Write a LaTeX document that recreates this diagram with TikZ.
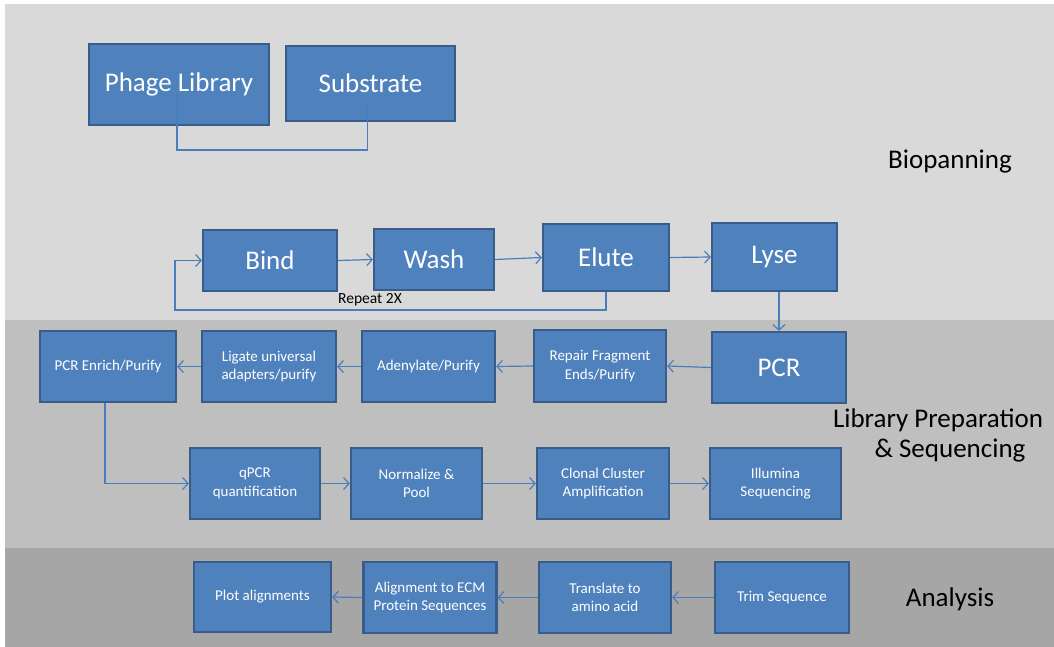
\documentclass[tikz,border=0pt]{standalone}
\usepackage{fontspec}
\setmainfont{Carlito}
\usetikzlibrary{arrows.meta}
\definecolor{bandA}{HTML}{D9D9D9}
\definecolor{bandB}{HTML}{BFBFBF}
\definecolor{bandC}{HTML}{A6A6A6}
\definecolor{boxfill}{HTML}{4F81BD}
\definecolor{boxline}{HTML}{385D8A}
\definecolor{arrowc}{HTML}{4A7EBB}
\begin{document}
\begin{tikzpicture}[x=1pt,y=-1pt,
  box/.style={draw=boxline, fill=boxfill, line width=2.2pt, text=white, align=center, inner sep=0pt},
  big/.style={font=\fontsize{27}{31}\selectfont},
  small/.style={font=\fontsize{15}{18.5}\selectfont},
  lbl/.style={font=\fontsize{27}{31}\selectfont, align=center, text=black},
  conn/.style={draw=arrowc, line width=1.2pt},
  arr/.style={conn, -{Straight Barb[length=5.5pt,width=12pt]}}
  ]
\useasboundingbox (0,0) rectangle (1054,647);
\fill[white] (0,0) rectangle (1054,647);
\fill[bandA] (5,4) rectangle (1054,320);
\fill[bandB] (5,320) rectangle (1054,548);
\fill[bandC] (5,548) rectangle (1054,647);

% Biopanning
\node[box,big,minimum width=180pt,minimum height=81pt] (pl) at (179,84.5) {Phage Library};
\node[box,big,minimum width=169pt,minimum height=75pt] (sb) at (370.5,83.5) {Substrate};
\node[box,big,minimum width=134pt,minimum height=61pt] (bi) at (270,260.5) {Bind};
\node[box,big,minimum width=120pt,minimum height=61pt] (wa) at (434,259.5) {Wash};
\node[box,big,minimum width=126pt,minimum height=67pt] (el) at (606,257.5) {Elute};
\node[box,big,minimum width=125pt,minimum height=68pt] (ly) at (774.5,257) {Lyse};

% Library preparation
\node[box,big,minimum width=134pt,minimum height=71pt] (pcr) at (779,367.5) {PCR};
\node[box,small,minimum width=132pt,minimum height=72pt] (rf) at (600,366) {Repair Fragment\\Ends/Purify};
\node[box,small,minimum width=133pt,minimum height=71pt] (ad) at (428.5,366.5) {Adenylate/Purify};
\node[box,small,minimum width=134pt,minimum height=71pt] (lg) at (269,366.5) {Ligate universal\\adapters/purify};
\node[box,small,minimum width=136pt,minimum height=71pt] (pe) at (108,366.5) {PCR Enrich/Purify};
\node[box,small,minimum width=130pt,minimum height=71pt] (qp) at (255,483.5) {qPCR\\quantification};
\node[box,small,minimum width=131pt,minimum height=71pt] (np) at (416.5,483.5) {Normalize \&\\Pool};
\node[box,small,minimum width=132pt,minimum height=71pt] (cc) at (603,483.5) {Clonal Cluster\\Amplification};
\node[box,small,minimum width=131pt,minimum height=71pt] (il) at (775.5,483.5) {Illumina\\Sequencing};

% Analysis
\node[box,small,minimum width=137pt,minimum height=70pt] (pa) at (262.5,597) {Plot alignments};
\node[box,small,minimum width=133pt,minimum height=71pt] (al) at (430,597.5) {Alignment to ECM\\Protein Sequences};
\node[box,small,minimum width=132pt,minimum height=71pt] (tr) at (605,597.5) {Translate to\\amino acid};
\node[box,small,minimum width=134pt,minimum height=71pt] (ts) at (782,597.5) {Trim Sequence};

% Section labels
\node[lbl] (lbio) at (950,162) {Biopanning};
\node[lbl] (llib1) at (938,420) {Library Preparation};
\node[lbl] (llib2) at (950,451) {\& Sequencing};
\node[lbl] (lana) at (950,599) {Analysis};
\node[font=\fontsize{15.5}{18}\selectfont, text=black] (rp) at (370,300) {Repeat 2X};

% Connectors
\coordinate (jn) at (0,150);
\draw[conn] ([yshift=-8pt,xshift=-2pt]pl.center) -- ([xshift=-2pt]pl.center |- jn) -| ([yshift=-18pt,xshift=-3pt]sb.center);
\draw[arr] (bi.east) -- (wa.west);
\draw[arr] (wa.east) -- (el.west);
\draw[arr] (el.east) -- (ly.west);
\coordinate (rl) at (175,310);
\draw[arr] (el.south) |- (rl) |- (bi.west);
\draw[arr] (pcr.north |- ly.south) -- (pcr.north);
\draw[arr] (pcr.west) -- (rf.east);
\draw[arr] (rf.west) -- (ad.east);
\draw[arr] (ad.west) -- (lg.east);
\draw[arr] (lg.west) -- (pe.east);
\draw[arr] ([xshift=-3pt]pe.south) |- (qp.west);
\draw[arr] (qp.east) -- (np.west);
\draw[arr] (np.east) -- (cc.west);
\draw[arr] (cc.east) -- (il.west);
\draw[arr] (ts.west) -- (tr.east);
\draw[arr] (tr.west) -- (al.east);
\draw[arr] (al.west) -- (pa.east);
\end{tikzpicture}
\end{document}
